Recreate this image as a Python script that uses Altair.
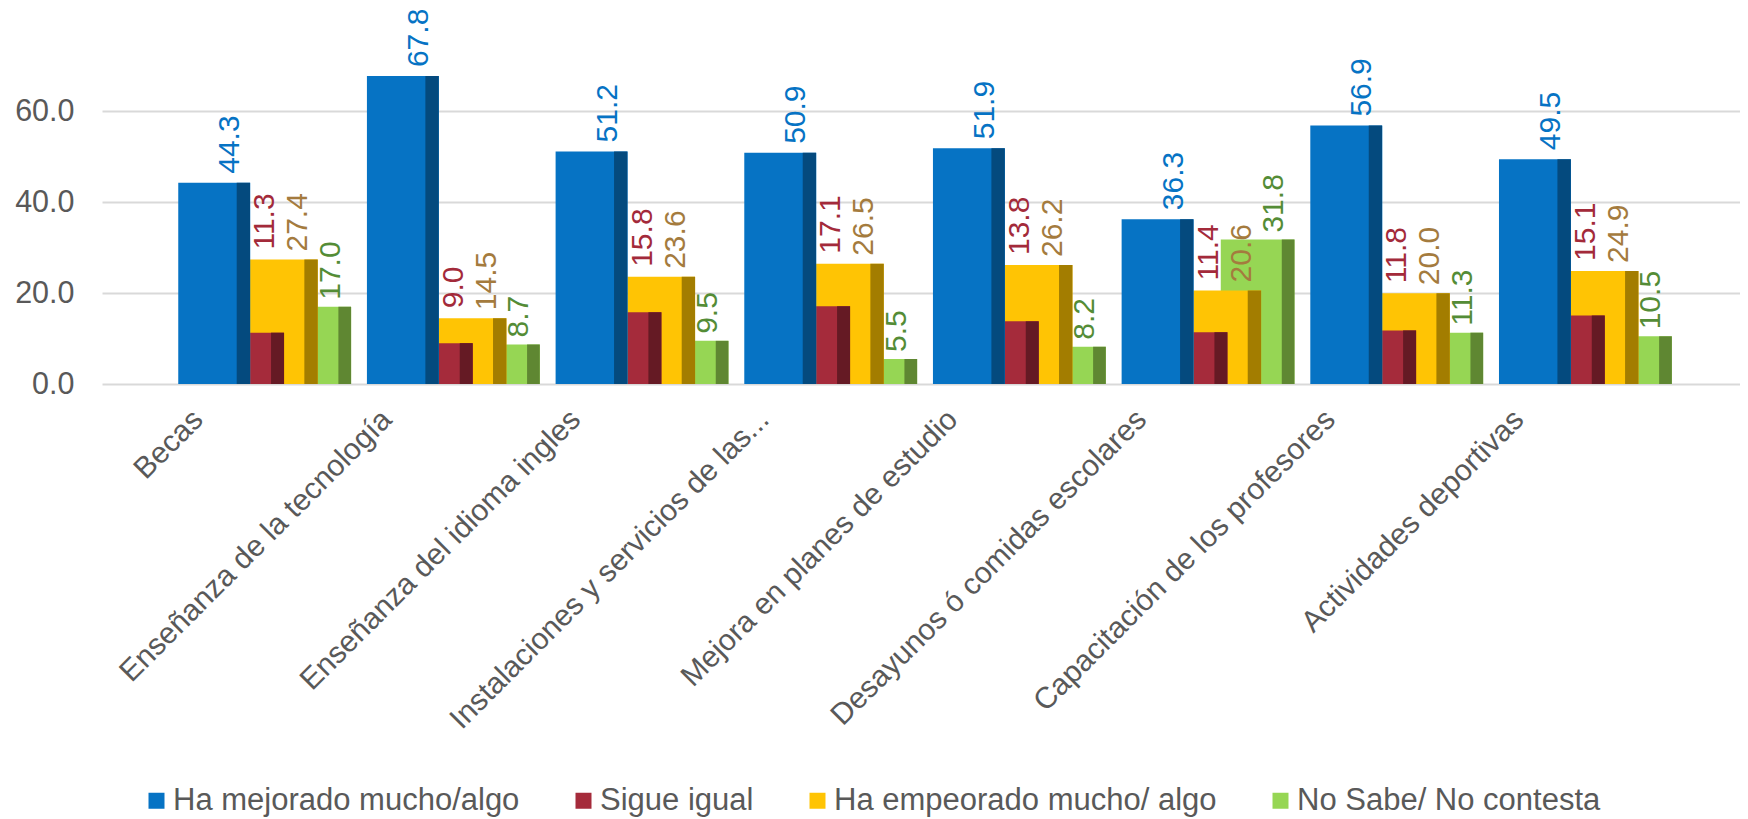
import altair as alt
import pandas as pd

categories = [
    "Becas",
    "Enseñanza de la tecnología",
    "Enseñanza del idioma ingles",
    "Instalaciones y servicios de las...",
    "Mejora en planes de estudio",
    "Desayunos ó comidas escolares",
    "Capacitación de los profesores",
    "Actividades deportivas",
]
mejorado = [44.3, 67.8, 51.2, 50.9, 51.9, 36.3, 56.9, 49.5]
igual = [11.3, 9.0, 15.8, 17.1, 13.8, 11.4, 11.8, 15.1]
empeorado = [27.4, 14.5, 23.6, 26.5, 26.2, 20.6, 20.0, 24.9]
nosabe = [17.0, 8.7, 9.5, 5.5, 8.2, 31.8, 11.3, 10.5]
series_names = ["Ha mejorado mucho/algo", "Sigue igual", "Ha empeorado mucho/ algo", "No Sabe/ No contesta"]
y_ticks = [0, 20, 40, 60]

front = ["#0673C4", "#A52B3B", "#FFC404", "#96D654"]
dark = ["#044A7E", "#651A24", "#A37D00", "#5F8732"]
label_col = ["#0673C4", "#A32A3A", "#A47B3E", "#548C36"]

df = pd.DataFrame({"cat": categories, "s0": mejorado, "s1": igual, "s2": empeorado, "s3": nosabe})

FONT = "Liberation Sans"
GREY = "#595959"

x_enc = alt.X(
    "cat:N",
    sort=categories,
    scale=alt.Scale(domain=categories, paddingInner=0, paddingOuter=0.3408, align=0.532),
    axis=alt.Axis(
        title=None, labelAngle=-45, labelFontSize=30, labelColor=GREY, labelFont=FONT,
        domain=False, ticks=False, tickSize=0, labelPadding=20, labelOffset=-77,
        labelLimit=800, grid=False,
    ),
)
y_scale = alt.Scale(domain=[0, 72], nice=False, zero=True)
y_axis = alt.Axis(
    title=None, values=y_ticks, format=".1f", labelFontSize=30.5, labelColor=GREY, labelFont=FONT,
    domain=False, ticks=False, tickSize=0, labelPadding=28, grid=True,
    gridColor="#D9D9D9", gridWidth=2,
)
color_scale = alt.Scale(domain=series_names, range=front)
legend = alt.Legend(
    orient="none", legendX=39, legendY=728, direction="horizontal", title=None,
    labelFontSize=31, labelColor=GREY, labelFont=FONT, symbolType="square",
    symbolSize=256, symbolStrokeWidth=0, columnPadding=48, labelOffset=1, labelLimit=800,
)

base = alt.Chart(df)

def front_bar(i, field, width, xoff):
    return base.transform_calculate(series=f"'{series_names[i]}'").mark_bar(
        width=width, xOffset=xoff
    ).encode(
        x=x_enc,
        y=alt.Y(f"{field}:Q", scale=y_scale, axis=y_axis),
        color=alt.Color("series:N", scale=color_scale, legend=legend),
    )

def dark_bar(i, field, width, xoff):
    return base.mark_bar(width=width, xOffset=xoff, color=dark[i]).encode(
        x=x_enc,
        y=alt.Y(f"{field}:Q", scale=y_scale, axis=y_axis),
    )

def label(i, field, xoff, yoff, posfield=None):
    ch = base
    if posfield is not None:
        ch = ch.transform_calculate(pos=posfield)
        yf = "pos:Q"
    else:
        yf = f"{field}:Q"
    return ch.mark_text(
        angle=270, align="left", baseline="middle", xOffset=xoff, yOffset=yoff,
        fontSize=30, font=FONT, color=label_col[i],
    ).encode(
        x=x_enc,
        y=alt.Y(yf, scale=y_scale, axis=y_axis),
        text=alt.Text(f"{field}:Q", format=".1f"),
    )

layers = [
    front_bar(3, "s3", 73.7, 49.5), dark_bar(3, "s3", 12.7, 80),
    front_bar(2, "s2", 67.7, 19.1), dark_bar(2, "s2", 13.4, 46.3),
    front_bar(1, "s1", 34, 2.3), dark_bar(1, "s1", 13, 12.8),
    front_bar(0, "s0", 72, -50.5), dark_bar(0, "s0", 13.3, -21.4),
    label(0, "s0", -34.5, -9),
    label(1, "s1", 0.6, -10, posfield="max(datum.s1, datum.s2)"),
    label(2, "s2", 33.6, -8),
    label(3, "s3", 66, -7),
]

chart = alt.layer(*layers).properties(
    width=1638, height=327,
    padding={"left": 94, "top": 49, "right": 0, "bottom": 435},
    autosize=alt.AutoSizeParams(type="none"),
).configure(font=FONT).configure_view(stroke=None)

chart.save("out.html", embed_options={"renderer": "svg", "actions": False})
